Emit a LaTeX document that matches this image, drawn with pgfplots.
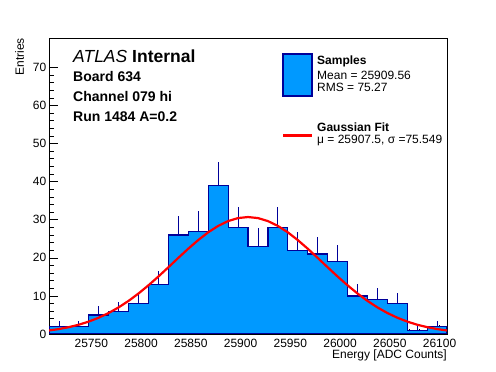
\documentclass[border=0pt]{standalone}
\usepackage{fontspec}
\setmainfont{Liberation Sans}
\usepackage{pgfplots}
\pgfplotsset{compat=1.18}
\pgfdeclareplotmark{nothing}{}
\definecolor{histfill}{RGB}{0,153,255}
\definecolor{histline}{RGB}{0,0,153}
\definecolor{fitred}{RGB}{255,0,0}
\begin{document}
\begin{tikzpicture}[x=1pt,y=1pt]
\path (0,0) rectangle (496,372);
\begin{axis}[
  at={(49pt,38pt)}, anchor=south west,
  scale only axis, width=398pt, height=296pt,
  xmin=25707.5, xmax=26107.5, ymin=0, ymax=77.7,
  xtick={25750,25800,25850,25900,25950,26000,26050,26100},
  ytick={0,10,20,30,40,50,60,70},
  scaled x ticks=false, scaled y ticks=false,
  minor x tick num=4, minor y tick num=4,
  tick align=inside, tick pos=left,
  major tick length=9pt, minor tick length=4.5pt,
  every tick/.style={black, line width=0.6pt},
  axis line style={line width=0.8pt},
  /pgf/number format/assume math mode=true,
  /pgf/number format/1000 sep={},
  xticklabel={\pgfmathprintnumber[fixed, precision=0, 1000 sep={}]{\tick}},
  ticklabel style={font=\fontsize{12}{14}\selectfont, inner sep=0pt},
  yticklabel style={xshift=-2.5pt},
  xticklabel style={yshift=-5pt},
  clip=true,
]
% histogram (bin left edges, last point is right edge)
\addplot[const plot, fill=histfill, draw=histline, line width=1.2pt, mark=none] coordinates {
(25707.5,2) (25727.5,2) (25747.5,5) (25767.5,6) (25787.5,8)
(25807.5,13) (25827.5,26) (25847.5,27) (25867.5,39) (25887.5,28)
(25907.5,23) (25927.5,28) (25947.5,22) (25967.5,21) (25987.5,19)
(26007.5,10) (26027.5,9) (26047.5,8) (26067.5,1) (26087.5,2) (26107.5,2)
} \closedcycle;
% upper error bars
\addplot[draw=none, mark=none, forget plot,
  error bars/.cd, y dir=plus, y explicit,
  error bar style={draw=histline, line width=0.9pt},
  error mark=nothing] coordinates {
(25717.5,2) +- (0,1.414)
(25737.5,2) +- (0,1.414)
(25757.5,5) +- (0,2.236)
(25777.5,6) +- (0,2.449)
(25797.5,8) +- (0,2.828)
(25817.5,13) +- (0,3.606)
(25837.5,26) +- (0,5.099)
(25857.5,27) +- (0,5.196)
(25877.5,39) +- (0,6.245)
(25897.5,28) +- (0,5.292)
(25917.5,23) +- (0,4.796)
(25937.5,28) +- (0,5.292)
(25957.5,22) +- (0,4.690)
(25977.5,21) +- (0,4.583)
(25997.5,19) +- (0,4.359)
(26017.5,10) +- (0,3.162)
(26037.5,9) +- (0,3.000)
(26057.5,8) +- (0,2.828)
(26077.5,1) +- (0,1.000)
(26097.5,2) +- (0,1.414)
};
% gaussian fit curve
\addplot[draw=fitred, line width=2.2pt, line join=round, mark=none] coordinates {
(25707.5,0.92) (25717.5,1.30) (25727.5,1.80) (25737.5,2.44) (25747.5,3.26)
(25757.5,4.28) (25767.5,5.52) (25777.5,6.99) (25787.5,8.70) (25797.5,10.64)
(25807.5,12.79) (25817.5,15.10) (25827.5,17.52) (25837.5,19.99) (25847.5,22.40)
(25857.5,24.66) (25867.5,26.69) (25877.5,28.37) (25887.5,29.64) (25897.5,30.43)
(25907.5,30.70)
(25917.5,30.43) (25927.5,29.64) (25937.5,28.37) (25947.5,26.69) (25957.5,24.66)
(25967.5,22.40) (25977.5,19.99) (25987.5,17.52) (25997.5,15.10) (26007.5,12.79)
(26017.5,10.64) (26027.5,8.70) (26037.5,6.99) (26047.5,5.52) (26057.5,4.28)
(26067.5,3.26) (26077.5,2.44) (26087.5,1.80) (26097.5,1.30) (26107.5,0.92)
};
\end{axis}
% axis titles
\node[anchor=base east, inner sep=0pt, font=\fontsize{12}{14}\selectfont] at (447,13) {Energy [ADC Counts]};
\node[rotate=90, anchor=base east, inner sep=0pt, font=\fontsize{12}{14}\selectfont] at (24,334) {Entries};
% labels
\node[anchor=base west, inner sep=0pt, font=\fontsize{17.5}{20}\selectfont] at (73,309) {\textit{ATLAS} \textbf{Internal}};
\node[anchor=base west, inner sep=0pt, font=\fontsize{14}{16}\selectfont\bfseries] at (73,290) {Board 634};
\node[anchor=base west, inner sep=0pt, font=\fontsize{14}{16}\selectfont\bfseries] at (73,270) {Channel 079 hi};
\node[anchor=base west, inner sep=0pt, font=\fontsize{14}{16}\selectfont\bfseries] at (73,250) {Run 1484 A=0.2};
% legend
\fill[histfill, draw=histline, line width=1.2pt] (283,276) rectangle (312,318);
\draw[fitred, line width=2.2pt] (283,236.5) -- (312,236.5);
\node[anchor=base west, inner sep=0pt, font=\fontsize{12}{14}\selectfont\bfseries] at (317,307) {Samples};
\node[anchor=base west, inner sep=0pt, font=\fontsize{12}{14}\selectfont] at (317,292) {Mean = 25909.56};
\node[anchor=base west, inner sep=0pt, font=\fontsize{12}{14}\selectfont] at (317,280) {RMS = 75.27};
\node[anchor=base west, inner sep=0pt, font=\fontsize{12}{14}\selectfont\bfseries] at (317,240) {Gaussian Fit};
\node[anchor=base west, inner sep=0pt, font=\fontsize{12}{14}\selectfont] at (317,228) {μ = 25907.5, σ =75.549};
\end{tikzpicture}
\end{document}
